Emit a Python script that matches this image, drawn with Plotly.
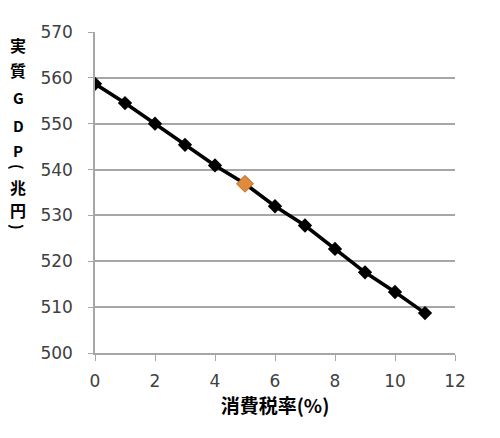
import plotly.graph_objects as go

# 消費税率(%) と 実質GDP(兆円)
tax_rate = [0, 1, 2, 3, 4, 5, 6, 7, 8, 9, 10, 11]
real_gdp = [558.7, 554.5, 550.0, 545.4, 540.9, 536.9, 532.0, 527.8, 522.7, 517.6, 513.3, 508.7]

# 現行税率(5%)の点
current_rate = [5]
current_gdp = [536.9]

x_ticks = [0, 2, 4, 6, 8, 10, 12]
y_ticks = [500, 510, 520, 530, 540, 550, 560, 570]

fig = go.Figure()

fig.add_trace(go.Scatter(
    x=tax_rate, y=real_gdp,
    mode="lines+markers",
    line=dict(color="black", width=3.5),
    marker=dict(symbol="diamond", size=11, color="black"),
    showlegend=False,
))
fig.add_trace(go.Scatter(
    x=current_rate, y=current_gdp,
    mode="markers",
    marker=dict(symbol="diamond", size=13, color="#E08A3E",
                line=dict(color="#C06A20", width=1)),
    showlegend=False,
))

tick_font = dict(family="DejaVu Sans", size=17, color="#404040")

fig.update_xaxes(
    range=[0, 12], tickvals=x_ticks,
    showgrid=False, zeroline=False,
    showline=True, linecolor="#a6a6a6", linewidth=1.5,
    ticks="outside", ticklen=6, tickcolor="#a6a6a6",
    ticklabelstandoff=6,
    tickfont=tick_font,
    title=dict(text="<b>消費税率(%)</b>",
               font=dict(family="Noto Sans CJK JP", size=19, color="black"),
               standoff=8),
)
fig.update_yaxes(
    range=[500, 570], tickvals=y_ticks,
    showgrid=True, gridcolor="#a6a6a6", gridwidth=1.5,
    zeroline=False,
    showline=True, linecolor="#a6a6a6", linewidth=1.5,
    ticks="outside", ticklen=5, tickcolor="#a6a6a6",
    ticklabelstandoff=12,
    tickfont=tick_font,
)

# 縦書きの軸タイトル: (文字, 画面上のy位置, 文字サイズ, 回転)
# 括弧は横倒しにして縦書きの「︵」「︶」の形にする
title_parts = [("実", 45, 16, 0), ("質", 70, 16, 0), ("G", 97, 15, 0), ("D", 125, 15, 0),
               ("P", 150, 15, 0), ("(", 167, 15, 90), ("兆", 187, 16, 0), ("円", 210, 16, 0),
               (")", 227, 15, 90)]
for ch, ypx, fs, ang in title_parts:
    fig.add_annotation(
        text=f"<b>{ch}</b>",
        xref="paper", yref="paper",
        x=(18 - 95) / 360, y=(353 - ypx) / 321,
        xanchor="center", yanchor="middle",
        textangle=ang,
        showarrow=False,
        font=dict(family="Noto Sans CJK JP", size=fs, color="black"),
    )

fig.update_layout(
    width=500, height=438,
    margin=dict(l=87, r=53, t=24, b=93),
    paper_bgcolor="white", plot_bgcolor="white",
)

fig.write_html("out.html")
